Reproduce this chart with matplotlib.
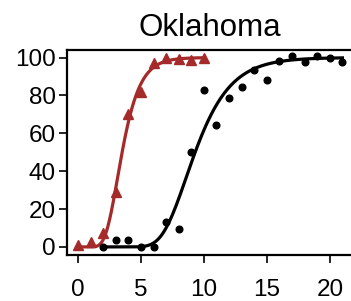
import numpy as np
import matplotlib
matplotlib.use("Agg")
import matplotlib.pyplot as plt

plt.rcParams['font.family'] = ['Liberation Sans', 'DejaVu Sans']

title = "Oklahoma"
red_x = [0, 1, 2, 3, 4, 5, 6, 7, 8, 9, 10]
red_y = [1, 2.8, 7.6, 29, 70, 82, 97, 100, 99, 98.6, 100]
black_x = [2, 3, 4, 5, 6, 7, 8, 9, 10, 11, 12, 13, 14, 15, 16, 17, 18, 19, 20, 21]
black_y = [0, 3.7, 3.4, 0, 0, 13, 9.4, 50, 83, 64.5, 78.7, 84.5, 93.6, 88.4,
           98, 100.7, 97.5, 100.7, 99.8, 97.5]
xticks = [0, 5, 10, 15, 20]
yticks = [0, 20, 40, 60, 80, 100]
upper = 100


def fit_gompertz(x, y):
    x = np.asarray(x, float)
    y = np.asarray(y, float)
    best = None
    for t0 in np.linspace(0, 15, 301):
        for c in np.linspace(0.1, 3.0, 291):
            f = upper * np.exp(-np.exp(-c * (x - t0)))
            err = np.sum((f - y) ** 2)
            if best is None or err < best[0]:
                best = (err, t0, c)
    _, t0, c = best
    return lambda t: upper * np.exp(-np.exp(-c * (t - t0)))


red_fit = fit_gompertz(red_x, red_y)
black_fit = fit_gompertz(black_x, black_y)

W, H = 351, 301
fig = plt.figure(figsize=(W / 100, H / 100), dpi=100)
left, right, top, bottom = 67.4, 353, 50, 254.5
ax = fig.add_axes([left / W, 1 - bottom / H, (right - left) / W, (bottom - top) / H])

red = '#A52A2A'
xr = np.linspace(min(red_x), max(red_x), 300)
xb = np.linspace(min(black_x), max(black_x), 300)
ax.plot(xr, red_fit(xr), color=red, lw=2.3, zorder=2)
ax.plot(xb, black_fit(xb), color='black', lw=2.3, zorder=2)
ax.plot(red_x, red_y, '^', color=red, ms=6.5, zorder=3, clip_on=False)
ax.plot(black_x, black_y, 'o', color='black', ms=4.8, zorder=3, clip_on=False)

ax.set_xlim(-0.84, 21.84)
ax.set_ylim(-4, 104)
ax.set_xticks(xticks)
ax.set_yticks(yticks)
ax.tick_params(direction='out', length=5.5, width=1.2, labelsize=17.5, colors='black')
ax.tick_params(axis='y', pad=3)
ax.tick_params(axis='x', pad=12.5)
for s in ['left', 'bottom', 'top']:
    ax.spines[s].set_linewidth(1.6)
ax.spines['right'].set_visible(False)
ax.set_title(title, fontsize=22.5, pad=10)

fig.savefig("out.png", dpi=100)
